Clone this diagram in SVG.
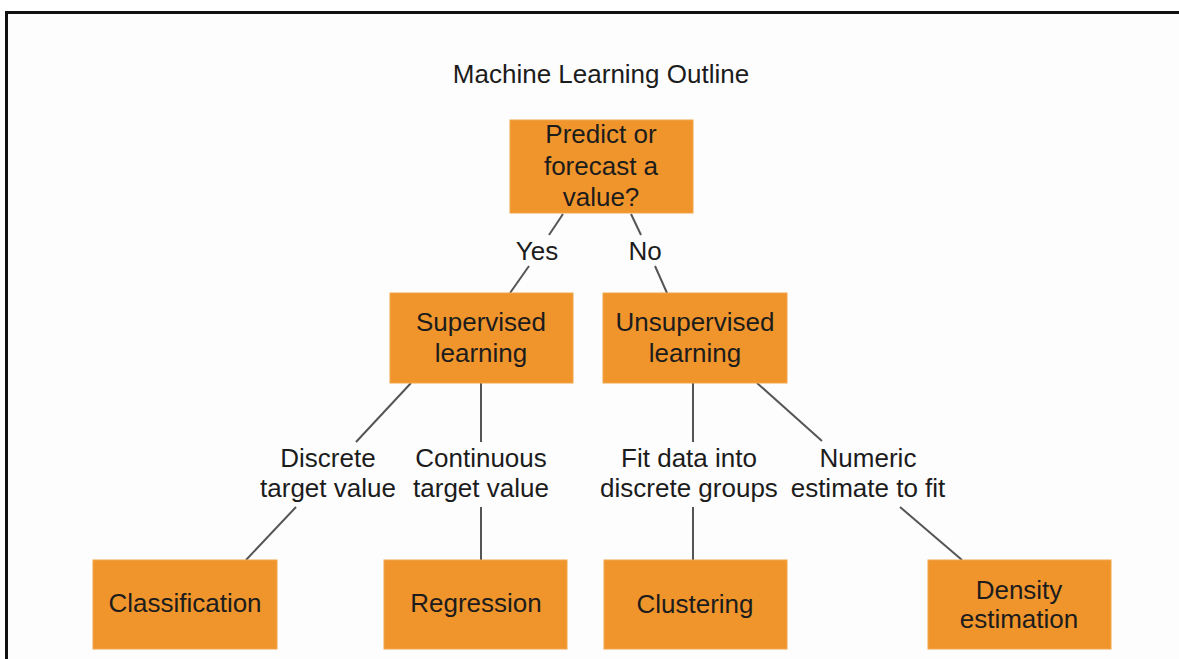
<svg xmlns="http://www.w3.org/2000/svg" width="1179" height="659" viewBox="0 0 1179 659">
<style>
.box{fill:#F0952C;stroke:#F3A54A;stroke-width:1}
.t{font-family:"Liberation Sans",Arial,sans-serif;font-size:26px;fill:#1c1c1c;text-anchor:middle}
.c{stroke:#555;stroke-width:2;fill:none}
</style>
<rect x="0" y="0" width="1179" height="659" fill="#ffffff"/>
<rect x="7" y="13" width="1172" height="646" fill="#fdfdfd"/>
<path d="M6.5 659 V12.5 H1179" fill="none" stroke="#111" stroke-width="3"/>
<text class="t" x="601" y="83">Machine Learning Outline</text>
<g id="connectors">
<line class="c" x1="563" y1="214" x2="549" y2="235"/>
<line class="c" x1="529" y1="266" x2="510" y2="293"/>
<line class="c" x1="631" y1="214" x2="641" y2="235"/>
<line class="c" x1="655" y1="266" x2="667" y2="293"/>
<line class="c" x1="411" y1="383" x2="356" y2="442"/>
<line class="c" x1="296" y1="507" x2="246" y2="560"/>
<line class="c" x1="481" y1="383" x2="481" y2="442"/>
<line class="c" x1="481" y1="507" x2="481" y2="560"/>
<line class="c" x1="693" y1="383" x2="693" y2="442"/>
<line class="c" x1="693" y1="507" x2="693" y2="560"/>
<line class="c" x1="757" y1="383" x2="822" y2="441"/>
<line class="c" x1="900" y1="507" x2="962" y2="560"/>
<text class="t" x="537" y="260">Yes</text>
<text class="t" x="645" y="260">No</text>
<text class="t" x="328" y="467">Discrete</text>
<text class="t" x="328" y="497">target value</text>
<text class="t" x="481" y="467">Continuous</text>
<text class="t" x="481" y="497">target value</text>
<text class="t" x="689" y="467">Fit data into</text>
<text class="t" x="689" y="497">discrete groups</text>
<text class="t" x="868" y="467">Numeric</text>
<text class="t" x="868" y="497">estimate to fit</text>
</g>
<g id="predict">
<rect class="box" x="510" y="120" width="183" height="93"/>
<text class="t" x="601" y="143">Predict or</text>
<text class="t" x="601" y="175">forecast a</text>
<text class="t" x="601" y="206">value?</text>
</g>
<g id="supervised">
<rect class="box" x="390" y="293" width="183" height="90"/>
<text class="t" x="481" y="331">Supervised</text>
<text class="t" x="481" y="362">learning</text>
</g>
<g id="unsupervised">
<rect class="box" x="603" y="293" width="184" height="90"/>
<text class="t" x="695" y="331">Unsupervised</text>
<text class="t" x="695" y="362">learning</text>
</g>
<g id="classification">
<rect class="box" x="93" y="560" width="184" height="89"/>
<text class="t" x="185" y="612">Classification</text>
</g>
<g id="regression">
<rect class="box" x="384" y="560" width="183" height="89"/>
<text class="t" x="476" y="612">Regression</text>
</g>
<g id="clustering">
<rect class="box" x="604" y="560" width="183" height="89"/>
<text class="t" x="695" y="613">Clustering</text>
</g>
<g id="density">
<rect class="box" x="928" y="560" width="183" height="89"/>
<text class="t" x="1019" y="599">Density</text>
<text class="t" x="1019" y="628">estimation</text>
</g>
</svg>
